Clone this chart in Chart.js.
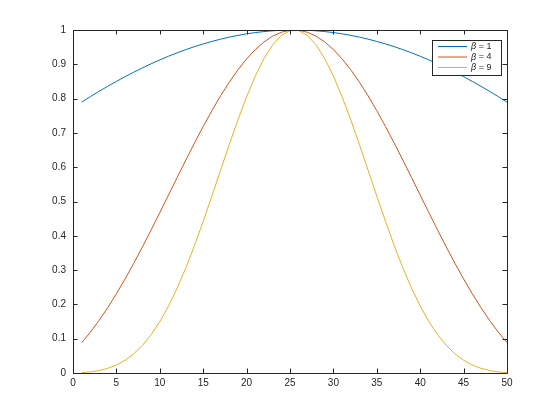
<!DOCTYPE html>
<html>
<head>
<meta charset="utf-8">
<script src="https://cdn.jsdelivr.net/npm/chart.js@4/dist/chart.umd.min.js"></script>
<style>
  html, body { margin: 0; padding: 0; background: #fff; }
  #wrap { width: 560px; height: 420px; }
</style>
</head>
<body>
<div id="wrap"><canvas id="myChart" width="560" height="420"></canvas></div>
<script>
'use strict';
// sample index 1..50
let samples = Array.from({ length: 50 }, (_, i) => i + 1);

let seriesNames = ['1', '4', '9'];
let seriesColors = ['#0072BD', '#D95319', '#EDB120'];

let beta1 = [0.7898, 0.8057, 0.8211, 0.8359, 0.8502, 0.8639, 0.8770, 0.8896, 0.9015, 0.9128,
  0.9235, 0.9335, 0.9428, 0.9515, 0.9595, 0.9667, 0.9733, 0.9792, 0.9843, 0.9888,
  0.9925, 0.9954, 0.9977, 0.9992, 0.9999, 0.9999, 0.9992, 0.9977, 0.9954, 0.9925,
  0.9888, 0.9843, 0.9792, 0.9733, 0.9667, 0.9595, 0.9515, 0.9428, 0.9335, 0.9235,
  0.9128, 0.9015, 0.8896, 0.8770, 0.8639, 0.8502, 0.8359, 0.8211, 0.8057, 0.7898];

let beta4 = [0.0885, 0.1191, 0.1532, 0.1906, 0.2310, 0.2742, 0.3199, 0.3677, 0.4171, 0.4676,
  0.5188, 0.5701, 0.6209, 0.6706, 0.7188, 0.7647, 0.8079, 0.8478, 0.8839, 0.9158,
  0.9430, 0.9652, 0.9821, 0.9935, 0.9993, 0.9993, 0.9935, 0.9821, 0.9652, 0.9430,
  0.9158, 0.8839, 0.8478, 0.8079, 0.7647, 0.7188, 0.6706, 0.6209, 0.5701, 0.5188,
  0.4676, 0.4171, 0.3677, 0.3199, 0.2742, 0.2310, 0.1906, 0.1532, 0.1191, 0.0885];

let beta9 = [0.0009, 0.0031, 0.0071, 0.0136, 0.0234, 0.0373, 0.0561, 0.0808, 0.1119, 0.1499,
  0.1952, 0.2476, 0.3068, 0.3720, 0.4422, 0.5158, 0.5910, 0.6658, 0.7380, 0.8054,
  0.8656, 0.9167, 0.9567, 0.9842, 0.9982, 0.9982, 0.9842, 0.9567, 0.9167, 0.8656,
  0.8054, 0.7380, 0.6658, 0.5910, 0.5158, 0.4422, 0.3720, 0.3068, 0.2476, 0.1952,
  0.1499, 0.1119, 0.0808, 0.0561, 0.0373, 0.0234, 0.0136, 0.0071, 0.0031, 0.0009];

let xTicks = [0, 5, 10, 15, 20, 25, 30, 35, 40, 45, 50];
let yTicks = [0, 0.1, 0.2, 0.3, 0.4, 0.5, 0.6, 0.7, 0.8, 0.9, 1];
let yTickLabels = ['0', '0.1', '0.2', '0.3', '0.4', '0.5', '0.6', '0.7', '0.8', '0.9', '1'];

let allSeries = [beta1, beta4, beta9];
let axisColor = '#262626';
let fontFamily = '"Liberation Sans", Arial, Helvetica, sans-serif';

function makeDataset(values, i) {
  return {
    label: 'β = ' + seriesNames[i],
    data: values.map((v, k) => ({ x: samples[k], y: v })),
    borderColor: seriesColors[i],
    backgroundColor: seriesColors[i],
    borderWidth: 1,
    pointRadius: 0,
    tension: 0,
    fill: false
  };
}

// box, inward ticks on all four sides, and the MATLAB style legend
let matlabFrame = {
  id: 'matlabFrame',
  afterDraw(chart) {
    let ctx = chart.ctx;
    let a = chart.chartArea;
    let xs = chart.scales.x;
    let ys = chart.scales.y;
    let tl = 4.5;
    ctx.save();
    ctx.strokeStyle = axisColor;
    ctx.lineWidth = 1;
    ctx.beginPath();
    ctx.rect(Math.round(a.left) + 0.5, Math.round(a.top) + 0.5,
      Math.round(a.right - a.left), Math.round(a.bottom - a.top));
    xTicks.forEach(t => {
      let px = Math.round(xs.getPixelForValue(t)) + 0.5;
      ctx.moveTo(px, a.bottom); ctx.lineTo(px, a.bottom - tl);
      ctx.moveTo(px, a.top); ctx.lineTo(px, a.top + tl);
    });
    yTicks.forEach(t => {
      let py = Math.round(ys.getPixelForValue(t)) + 0.5;
      ctx.moveTo(a.left, py); ctx.lineTo(a.left + tl, py);
      ctx.moveTo(a.right, py); ctx.lineTo(a.right - tl, py);
    });
    ctx.stroke();

    // legend
    let bx = 432.5, by = 40.5, bw = 69, bh = 35;
    ctx.fillStyle = '#ffffff';
    ctx.fillRect(bx, by, bw, bh);
    ctx.strokeStyle = axisColor;
    ctx.strokeRect(bx, by, bw, bh);
    let rowY = [46, 56.5, 67];
    chart.data.datasets.forEach((ds, i) => {
      let y = rowY[i];
      ctx.strokeStyle = ds.borderColor;
      ctx.beginPath();
      ctx.moveTo(438, y + 0.5);
      ctx.lineTo(467, y + 0.5);
      ctx.stroke();
      ctx.fillStyle = axisColor;
      ctx.textBaseline = 'middle';
      ctx.textAlign = 'left';
      ctx.font = 'italic 9px ' + fontFamily;
      ctx.fillText('β', 471, y + 0.5);
      let w = ctx.measureText('β').width;
      ctx.font = '9px ' + fontFamily;
      ctx.fillText(' = ' + seriesNames[i], 471 + w, y + 0.5);
    });
    ctx.restore();
  }
};

let ctx = document.getElementById('myChart').getContext('2d');
let chart = new Chart(ctx, {
  type: 'line',
  data: {
    datasets: allSeries.map(makeDataset)
  },
  options: {
    responsive: false,
    animation: false,
    devicePixelRatio: 1,
    layout: { padding: { top: 30, right: 53, left: 0, bottom: 0 } },
    plugins: {
      legend: { display: false },
      tooltip: { enabled: false }
    },
    scales: {
      x: {
        type: 'linear',
        min: 0,
        max: 50,
        afterFit(scale) { scale.height = 47; },
        afterBuildTicks(scale) { scale.ticks = xTicks.map(v => ({ value: v })); },
        grid: { display: false, drawTicks: false },
        border: { display: false },
        ticks: { color: axisColor, padding: 4, font: { family: fontFamily, size: 10 }, maxRotation: 0 }
      },
      y: {
        type: 'linear',
        min: 0,
        max: 1,
        afterFit(scale) { scale.width = 73; },
        afterBuildTicks(scale) { scale.ticks = yTicks.map(v => ({ value: v })); },
        grid: { display: false, drawTicks: false },
        border: { display: false },
        ticks: {
          color: axisColor, padding: 7, font: { family: fontFamily, size: 10 },
          callback: (value, index) => yTickLabels[index]
        }
      }
    }
  },
  plugins: [matlabFrame]
});
</script>
</body>
</html>
